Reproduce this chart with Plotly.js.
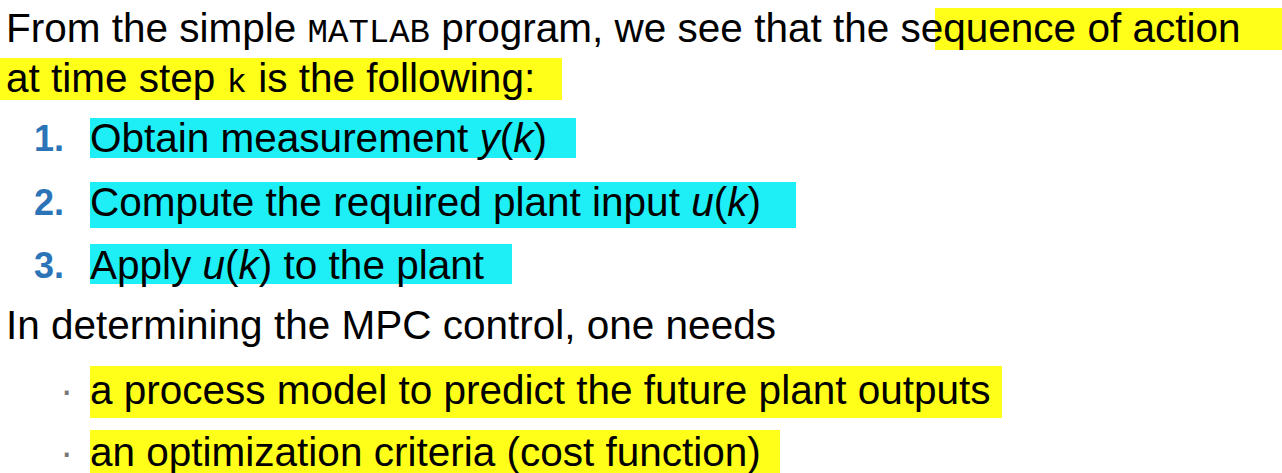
<!DOCTYPE html>
<html>
<head>
<meta charset="utf-8">
<script src="https://cdn.plot.ly/plotly-3.0.1.min.js"></script>
<style>html,body{margin:0;padding:0;background:#fff}#slide{width:1282px;height:473px}</style>
</head>
<body>
<div id="slide"></div>
<script>
const mono = s => '<span style="font-family:Liberation Mono;font-size:34px">' + s + '</span>'

// text lines of the slide
const lineTexts = [
  'From the simple ' + mono('MATLAB') + ' program, we see that the sequence of action',
  'at time step ' + mono('k') + ' is the following:',
  'Obtain measurement <i>y</i>(<i>k</i>)',
  'Compute the required plant input <i>u</i>(<i>k</i>)',
  'Apply <i>u</i>(<i>k</i>) to the plant',
  'In determining the MPC control, one needs',
  'a process model to predict the future plant outputs',
  'an optimization criteria (cost function)'
]
const lineY = [28, 78, 138, 202, 265, 325, 390, 452]
const lineX = [4, 4, 88, 88, 88, 4, 88, 88]
const markers = ['', '', '1.', '2.', '3.', '', '·', '·']

// highlight boxes [x0, x1, y0, y1, colour]
const highlights = [
  [935, 1282, 8, 50, '#ffff1a'],
  [0, 562, 58, 100, '#ffff1a'],
  [90, 576, 118, 158, '#1eeef5'],
  [90, 796, 182, 228, '#1eeef5'],
  [90, 512, 244, 284, '#1eeef5'],
  [90, 1002, 366, 418, '#ffff1a'],
  [90, 780, 430, 473, '#ffff1a']
]

const annotations = []
lineTexts.forEach((t, i) => {
  annotations.push({x: lineX[i], y: lineY[i], text: t, showarrow: false,
    xanchor: 'left', yanchor: 'middle', font: {size: 40.5, color: '#000'}})
  if (markers[i]) {
    const bullet = markers[i] === '·'
    annotations.push({x: bullet ? 58 : 32, y: lineY[i], text: bullet ? markers[i] : '<b>' + markers[i] + '</b>',
      showarrow: false, xanchor: 'left', yanchor: 'middle',
      font: {size: bullet ? 40 : 36, color: bullet ? '#777' : '#2b74b8'}})
  }
})

const shapes = highlights.map(h => ({type: 'rect', layer: 'below', x0: h[0], x1: h[1], y0: h[2], y1: h[3],
  fillcolor: h[4], line: {width: 0}}))

const layout = {
  width: 1282, height: 473,
  margin: {l: 0, r: 0, t: 0, b: 0},
  paper_bgcolor: '#fff', plot_bgcolor: '#fff',
  font: {family: 'Liberation Sans, Arial, sans-serif'},
  xaxis: {range: [0, 1282], visible: false, fixedrange: true},
  yaxis: {range: [473, 0], visible: false, fixedrange: true},
  shapes, annotations, showlegend: false
}

Plotly.newPlot('slide', [], layout, {displayModeBar: false, staticPlot: true})
</script>
</body>
</html>
